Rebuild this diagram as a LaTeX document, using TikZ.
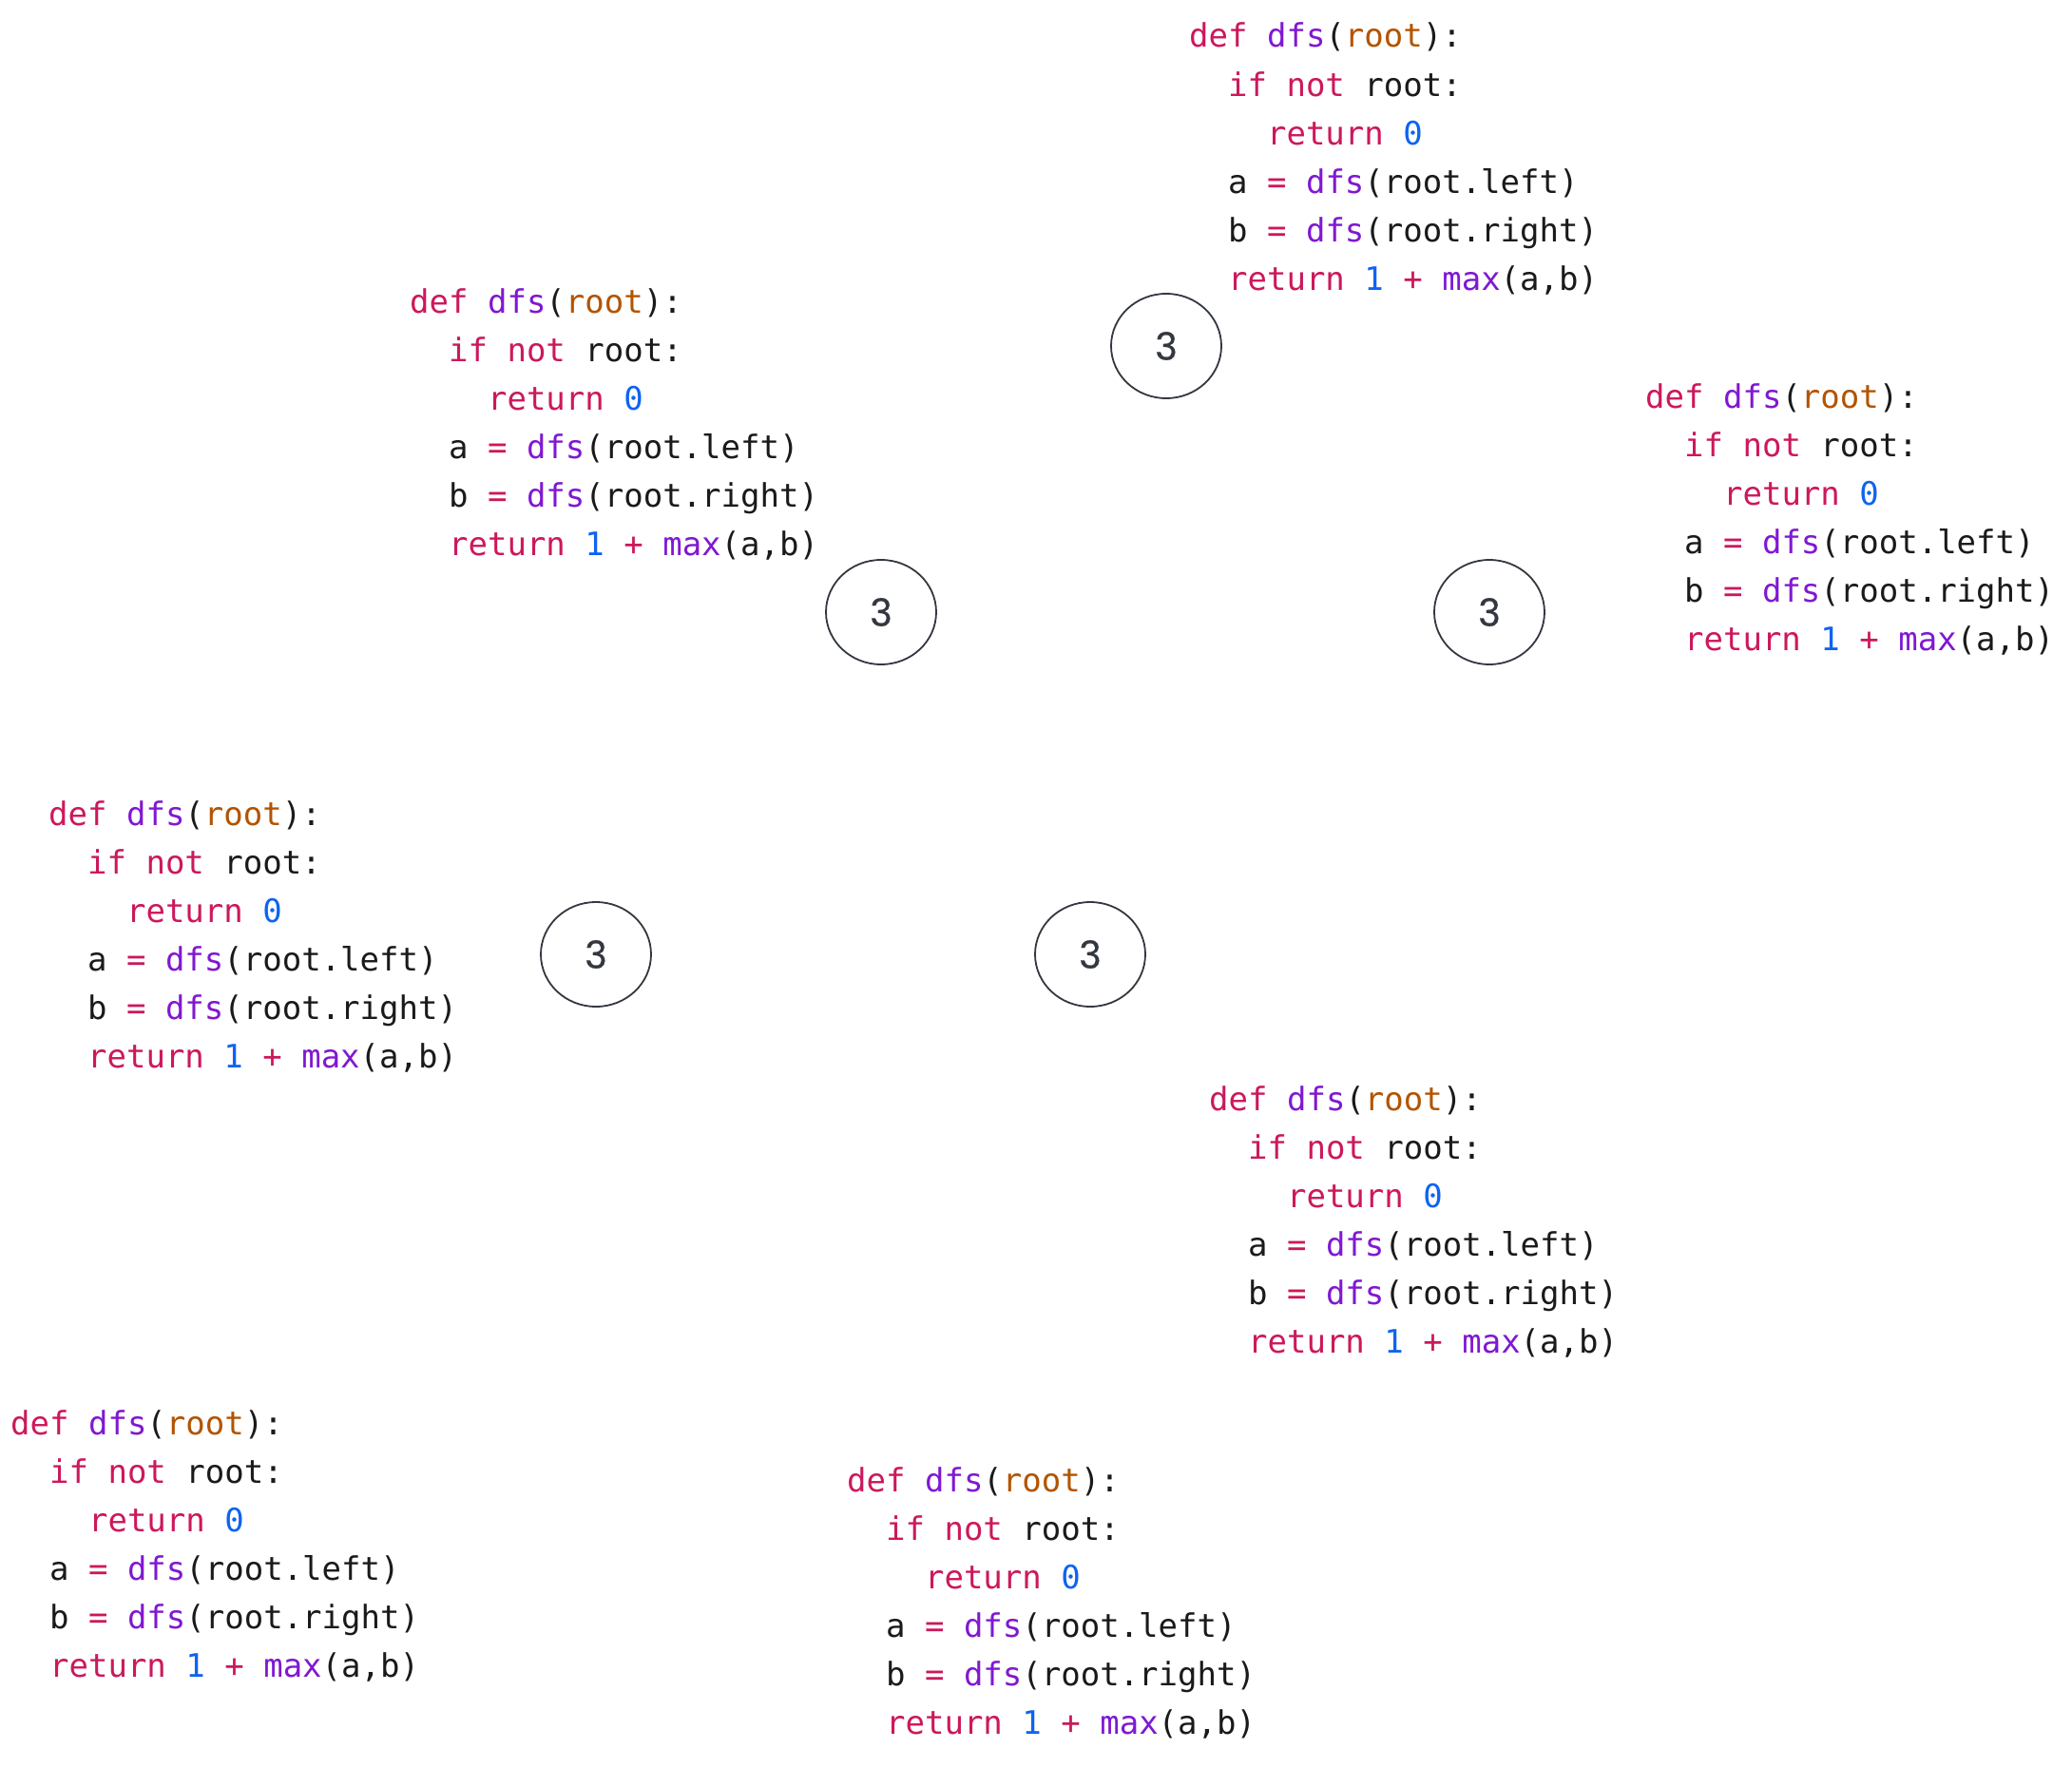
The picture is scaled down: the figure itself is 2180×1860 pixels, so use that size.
\documentclass[tikz,border=0pt]{standalone}
\usepackage{fontspec}
\setmonofont{DejaVu Sans Mono}
\newfontfamily\numfont[FakeBold=0.4]{Poppins}
\usetikzlibrary{shapes.geometric}
\definecolor{ckwc}{RGB}{204,24,92}
\definecolor{cfnc}{RGB}{128,24,210}
\definecolor{cparc}{RGB}{178,84,0}
\definecolor{cnumc}{RGB}{14,100,240}
\definecolor{codeblack}{RGB}{26,26,26}
\definecolor{circc}{RGB}{51,56,64}
\newcommand{\ckw}[1]{\textcolor{ckwc}{#1}}
\newcommand{\cfn}[1]{\textcolor{cfnc}{#1}}
\newcommand{\cpar}[1]{\textcolor{cparc}{#1}}
\newcommand{\cnum}[1]{\textcolor{cnumc}{#1}}
\newcommand{\indA}{\hphantom{xx}}
\newcommand{\indB}{\hphantom{xxxx}}
\tikzset{
  codeline/.style={anchor=base west, inner sep=0pt, text=codeblack,
    font=\ttfamily\fontsize{34}{51}\selectfont},
  valnode/.style={ellipse, draw=circc, line width=1.8pt, minimum width=116pt,
    minimum height=110pt, inner sep=0pt, text=circc,
    font=\numfont\fontsize{40}{44}\selectfont}
}
\newcommand{\dfsblock}[3]{%
  \node[codeline] (#1-1) at (#2,#3) {\ckw{def} \cfn{dfs}(\cpar{root}):};
  \node[codeline] (#1-2) at (#2,#3+51) {\indA\ckw{if} \ckw{not} root:};
  \node[codeline] (#1-3) at (#2,#3+102) {\indB\ckw{return} \cnum{0}};
  \node[codeline] (#1-4) at (#2,#3+153) {\indA a \ckw{=} \cfn{dfs}(root.left)};
  \node[codeline] (#1-5) at (#2,#3+204) {\indA b \ckw{=} \cfn{dfs}(root.right)};
  \node[codeline] (#1-6) at (#2,#3+255) {\indA\ckw{return} \cnum{1} \ckw{+} \cfn{max}(a,b)};
}
\begin{document}
\begin{tikzpicture}[x=1pt, y=-1pt]
\useasboundingbox (0,0) rectangle (2180,1860);
\fill[white] (0,0) rectangle (2180,1860);
\dfsblock{bA}{1251}{50}
\dfsblock{bB}{431}{329}
\dfsblock{bC}{1731}{429}
\dfsblock{bD}{51}{868}
\dfsblock{bE}{1272}{1168}
\dfsblock{bF}{11}{1509}
\dfsblock{bG}{891}{1569}
\node[valnode] (vA) at (1227,364) {3};
\node[valnode] (vB) at (927,644) {3};
\node[valnode] (vC) at (1567,644) {3};
\node[valnode] (vD) at (627,1004) {3};
\node[valnode] (vE) at (1147,1004) {3};
\end{tikzpicture}
\end{document}
